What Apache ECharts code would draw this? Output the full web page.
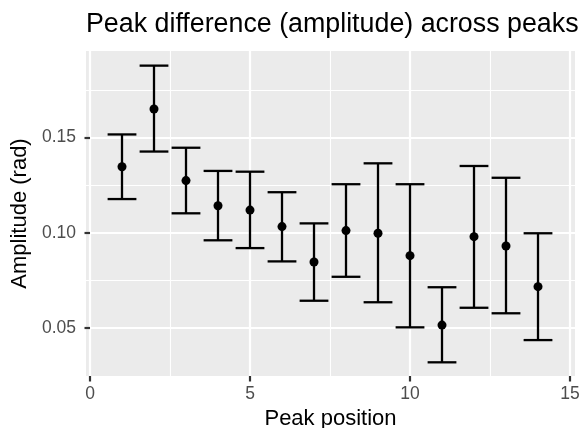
<!DOCTYPE html>
<html>
<head>
<meta charset="utf-8">
<script src="https://cdn.jsdelivr.net/npm/echarts@6/dist/echarts.min.js"></script>
<style>
html,body{margin:0;padding:0;background:#fff;}
#c{width:581px;height:428px;}
</style>
</head>
<body>
<div id="c"></div>
<script>
var positions = [1, 2, 3, 4, 5, 6, 7, 8, 9, 10, 11, 12, 13, 14];
var means = [0.1347, 0.1651, 0.1274, 0.1142, 0.1119, 0.1032, 0.0846, 0.1011, 0.0997, 0.0879, 0.0514, 0.0979, 0.0930, 0.0716];
var lower = [0.1177, 0.1427, 0.1102, 0.0960, 0.0919, 0.0849, 0.0642, 0.0768, 0.0634, 0.0502, 0.0318, 0.0605, 0.0576, 0.0435];
var upper = [0.1517, 0.1879, 0.1447, 0.1325, 0.1321, 0.1213, 0.1049, 0.1255, 0.1365, 0.1255, 0.0713, 0.1351, 0.1289, 0.0997];
var xTicks = [0, 5, 10, 15];
var xMinor = [2.5, 7.5, 12.5];
var yTicks = [0.05, 0.10, 0.15];
var yMinor = [0.075, 0.125, 0.175];
var capHalf = 0.45;

var FONT = 'Liberation Sans';
var chart = echarts.init(document.getElementById('c'), null, {renderer: 'canvas'});

var xMin = -0.125, xMax = 15.156;
var yMin = 0.0246, yMax = 0.1956;

function baseX(extra) {
  return Object.assign({
    type: 'value', min: xMin, max: xMax, gridIndex: 0,
    axisLine: {show: false}
  }, extra);
}
function baseY(extra) {
  return Object.assign({
    type: 'value', min: yMin, max: yMax, gridIndex: 0,
    axisLine: {show: false}
  }, extra);
}

var option = {
  animation: false,
  backgroundColor: '#ffffff',
  title: {
    text: 'Peak difference (amplitude) across peaks',
    left: 86, top: 11, padding: 0,
    textStyle: {fontFamily: FONT, fontSize: 26.8, fontWeight: 'normal', color: '#000'}
  },
  grid: {
    left: 86, right: 6, top: 51, bottom: 52,
    containLabel: false, outerBoundsMode: 'none',
    show: true, backgroundColor: '#EBEBEB', borderWidth: 0
  },
  xAxis: [
    baseX({
      name: 'Peak position', nameLocation: 'middle', nameGap: 30,
      nameTextStyle: {fontFamily: FONT, fontSize: 22, color: '#000', verticalAlign: 'top'},
      axisTick: {show: true, length: 5.5, customValues: xTicks, lineStyle: {color: '#333333', width: 2.2}},
      axisLabel: {show: true, margin: 9.5, customValues: xTicks, fontFamily: FONT, fontSize: 17.5, color: '#4D4D4D',
        formatter: function (v) { return String(v); }},
      splitLine: {show: true, lineStyle: {color: '#ffffff', width: 2.2}}
    }),
    baseX({
      axisTick: {show: false, customValues: xMinor},
      axisLabel: {show: false, customValues: xMinor},
      splitLine: {show: true, lineStyle: {color: '#ffffff', width: 1.1}}
    })
  ],
  yAxis: [
    baseY({
      name: 'Amplitude (rad)', nameLocation: 'middle', nameGap: 45,
      nameTextStyle: {fontFamily: FONT, fontSize: 22, color: '#000'},
      axisTick: {show: true, length: 5.5, customValues: yTicks, lineStyle: {color: '#333333', width: 2.2}},
      axisLabel: {show: true, margin: 10, customValues: yTicks, fontFamily: FONT, fontSize: 17.5, color: '#4D4D4D',
        formatter: function (v) { return v.toFixed(2); }},
      splitLine: {show: true, lineStyle: {color: '#ffffff', width: 2.2}}
    }),
    baseY({
      axisTick: {show: false, customValues: yMinor},
      axisLabel: {show: false, customValues: yMinor},
      splitLine: {show: true, lineStyle: {color: '#ffffff', width: 1.1}}
    })
  ],
  series: [
    {
      type: 'custom',
      xAxisIndex: 0, yAxisIndex: 0,
      data: positions.map(function (p, i) { return [p, lower[i], upper[i]]; }),
      renderItem: function (params, api) {
        var x = api.value(0), lo = api.value(1), hi = api.value(2);
        var pLo = api.coord([x, lo]);
        var pHi = api.coord([x, hi]);
        var aL = api.coord([x - capHalf, hi]);
        var aR = api.coord([x + capHalf, hi]);
        var bL = api.coord([x - capHalf, lo]);
        var bR = api.coord([x + capHalf, lo]);
        var style = {stroke: '#000', lineWidth: 2.3, fill: null};
        return {
          type: 'group',
          children: [
            {type: 'line', shape: {x1: pLo[0], y1: pLo[1], x2: pHi[0], y2: pHi[1]}, style: style},
            {type: 'line', shape: {x1: aL[0], y1: aL[1], x2: aR[0], y2: aR[1]}, style: style},
            {type: 'line', shape: {x1: bL[0], y1: bL[1], x2: bR[0], y2: bR[1]}, style: style}
          ]
        };
      },
      z: 3
    },
    {
      type: 'scatter',
      xAxisIndex: 0, yAxisIndex: 0,
      data: positions.map(function (p, i) { return [p, means[i]]; }),
      symbol: 'circle', symbolSize: 9,
      itemStyle: {color: '#000', opacity: 1},
      z: 4
    }
  ]
};
chart.setOption(option);
</script>
</body>
</html>
